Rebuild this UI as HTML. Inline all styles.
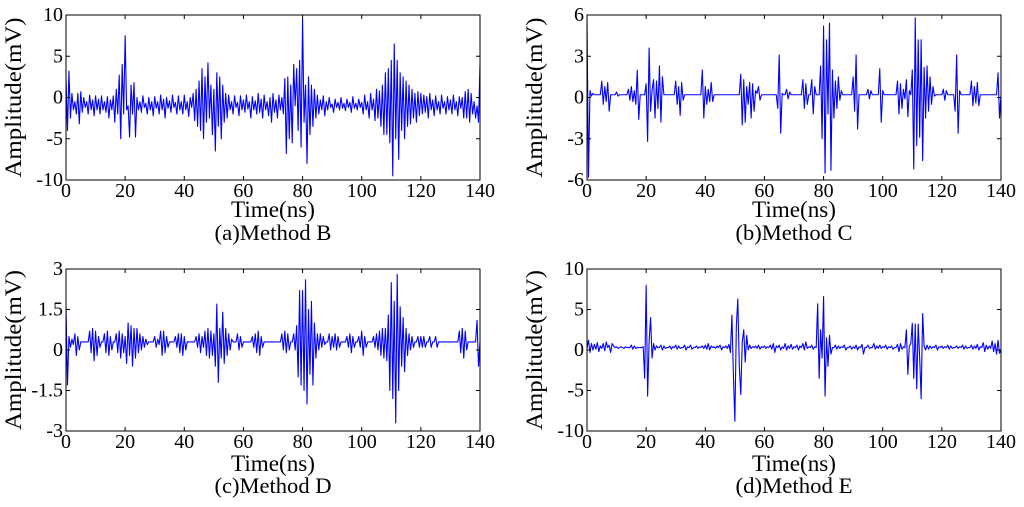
<!DOCTYPE html>
<html><head><meta charset="utf-8"><style>
html,body{margin:0;padding:0;background:#fff}
svg{display:block}
text{font-family:"Liberation Serif",serif;fill:#000}
</style></head><body>
<svg id="fig" width="1024" height="507" viewBox="0 0 1024 507" xmlns="http://www.w3.org/2000/svg"></svg>
<script>
const xTicks=[0,20,40,60,80,100,120,140];
const ticksA=[-10,-5,0,5,10];
const ticksB=[-6,-3,0,3,6];
const ticksC=[-3,-1.5,0,1.5,3];
const ticksD=[-10,-5,0,5,10];
const titles=["(a)Method B","(b)Method C","(c)Method D","(d)Method E"];
const seriesA=[2.5,-4,3.2,-2.5,0.5,-1.5,-0.5,-2,0.5,-3.2,0.7,-1.8,0,-1.2,-0.5,-2,0.3,-1.5,-0.3,-2.2,
0.2,-1.5,-0.2,-2,0.2,-1.5,-0.5,-1.8,0.1,-2.5,-0.3,-1.5,0.2,-3,1,-2,2.7,-5,4,-2,
7.5,-1.5,-1,-4.8,1.5,-2,1.8,-4.8,0,-1.5,-0.5,-1.8,0.2,-1.2,-0.7,-2,0,-1.5,-0.5,-2.2,
0.1,-1.3,-0.5,-2,0.3,-1.5,-0.2,-2.5,0,-1.3,-0.4,-1.8,0.3,-1.2,-0.6,-2,0.2,-1.5,-0.5,-2,
0.3,-1.5,-0.5,-2.3,0,-1.2,0.5,-2.8,1,-3.5,2,-4,3.5,-5,2.5,-3,4.2,-2.5,1.5,-4.5,
1,-6.5,3,-3.5,2.5,-5,1.5,-3,0.5,-2.5,0.3,-1.5,-0.5,-2,0.2,-1.2,-0.6,-2.2,0.2,-1.5,
-0.3,-1.8,0.3,-1.4,-0.5,-2.5,0.1,-1.5,-0.4,-2,0.5,-1.8,-0.2,-2.5,0.3,-1.5,-0.5,-2.2,0,-3,
0.5,-1.8,-0.3,-2.5,0.3,-1.5,0,-2,2.3,-6.8,2.5,-5,1.5,-5.5,4,-1,3.5,-4,4.5,-6,
9.5,-3,1.5,-8,2.5,-4.5,1.5,-3.5,1,-2.5,0.3,-2,-0.3,-1.5,0.2,-2.2,-0.5,-1.5,0,-1.2,
-0.8,-1.8,-0.2,-1.2,-0.6,-1.5,0,-1.3,-0.7,-1.6,-0.2,-1.2,-0.6,-1.8,0.1,-1.3,-0.7,-1.5,-0.2,-1.2,
-0.6,-2,0.3,-1.5,-0.5,-2.5,0.5,-1.5,-0.2,-2.8,1,-2.5,0.8,-3.5,1.5,-4.5,3,-4.5,3.5,-5.5,
4.5,-9.5,6.5,-5,4.5,-7.5,3,-4,2.5,-5,2,-3.5,1.5,-3.2,1,-2.5,0.5,-3,0.7,-2.2,
0.5,-2,0.3,-1.8,0.1,-2.5,0.5,-1.5,-0.3,-2.2,0.2,-1.5,-0.5,-2,0.3,-1.3,-0.5,-2,0.1,-1.5,
-0.3,-2,0.3,-1.5,-0.5,-2.2,0.1,-1.3,0,-2.5,0.7,-2.5,1,-3,0.5,-2,-0.5,-2.5,-1,-3,4];
const seriesB=[5.8,-5.8,0.5,0.1,0.3,0.2,0.2,0.2,0.2,0.2,1.2,-0.5,0.8,-0.3,1.1,-1,0.2,0.2,0.2,0.2,
0.4,0.1,0.2,0.2,0.2,0.2,0.2,0.2,0.6,-0.2,0.8,-0.3,0.5,-0.5,2,-1.6,0.2,0.2,0.2,0.2,
1,-3.2,3.6,-1,0.5,1.3,-1.5,1.2,-0.8,2.3,-1.8,1.5,0.2,0.2,0.2,0.2,0.2,0.2,0.2,0.2,
1.2,-0.5,0.8,-1.3,1.1,-0.2,0.2,0.2,0.2,0.2,0.2,0.2,0.2,0.2,0.2,0.2,0.2,0.2,2,-1.5,
0.8,-0.5,0.6,-0.3,1.1,-0.3,0.2,0.2,0.2,0.2,0.2,0.2,0.2,0.2,0.2,0.2,0.2,0.2,0.2,0.2,
0.2,0.2,0.2,0.2,1.7,-2,1.3,-1.8,0.8,-0.5,1.1,-1.5,1,-1,0.5,0.3,0.8,-0.2,0.2,0.2,
0.2,0.2,0.2,0.2,0.2,0.2,0.2,0.2,0.2,-0.8,3.1,-2.6,0.3,0.2,0.2,0.6,-0.1,0.4,0.2,0.2,
0.2,0.2,0.2,0.2,0.2,0.2,1.3,-0.8,1,-0.5,0.2,0.2,1.3,-1.2,0.8,0.2,0.2,0.2,2.3,-3,
5.2,-5.5,4.2,-1.2,5.4,-5.3,2,-1.5,1.2,-0.8,1.5,-0.2,0.5,0.2,0.2,0.2,0.2,0.2,0.2,0.2,
1.5,-1,3.1,-2.3,0.2,0.2,0.2,0.2,0.2,0.2,0.6,-0.1,0.5,0.2,0.2,0.2,0.2,0.2,2.1,-1.8,
0.5,0.2,0.2,0.2,0.2,0.2,0.2,0.2,0.2,0.2,1.2,-1.2,1,-0.8,0.6,-0.1,1.3,-1.4,0.5,0.2,
2,-5.2,5.8,-3.5,4.2,-2.9,4.2,-4.6,2.2,-1.5,2.3,-1,1.5,-0.5,0.8,0.1,0.2,0.2,0.2,0.2,
0.2,0.6,-0.2,0.5,0.2,0.2,0.2,0.2,0.2,-1,3.1,-2.6,0.5,0.2,0.2,0.2,0.2,0.2,0.2,0.2,
1.2,-0.6,0.8,-0.4,1.1,-0.6,0.2,0.2,0.2,0.2,0.2,0.2,0.2,0.2,0.2,0.2,0.2,0.2,1.8,-1.5,0.2];
const seriesC=[1.6,-1.3,0.5,0.1,0.4,0.2,0.6,-0.2,0.5,0,0.3,0.3,0.3,0.3,0.3,0.3,0.7,-0.1,0.8,-0.4,
0.7,-0.2,0.5,0.1,0.3,0.3,0.6,-0.1,0.7,-0.2,0.5,0,0.3,0.3,0.6,-0.1,0.7,-0.3,0.6,-0.1,
0.5,-0.5,1,-0.2,0.9,-0.6,0.8,-0.3,0.8,-0.1,0.6,0,0.5,0.1,0.4,0.2,0.3,0.3,0.3,0.3,
0.5,0.1,0.4,0.2,0.7,-0.2,0.7,-0.1,0.5,0.1,0.3,0.3,0.3,0.3,0.5,0.1,0.6,-0.1,0.6,-0.2,
0.5,0,0.3,0.3,0.3,0.3,0.3,0.3,0.5,0.1,0.6,-0.1,0.5,0.1,0.7,-0.2,0.8,-0.3,0.7,-0.2,
0.6,-0.6,1.7,-1.2,0.8,-0.3,1.4,-0.5,0.8,-0.2,0.6,0,0.4,0.3,0.3,0.3,0.6,0,0.5,0.1,
0.3,0.3,0.3,0.3,0.3,0.3,0.5,0.1,0.6,-0.1,0.7,-0.2,0.5,0.1,0.3,0.3,0.3,0.3,0.3,0.3,
0.3,0.3,0.3,0.3,0.3,0.3,0.6,0,0.7,-0.1,0.6,0,0.3,0.3,0.6,0,0.9,-1,2.2,-1.3,
2.2,-1.5,2.6,-2,1.5,-0.9,1.8,-1.3,1,-0.3,0.6,0,0.6,0.1,0.5,0.2,0.3,0.3,0.6,0,
0.5,0.1,0.6,0,0.5,0.1,0.3,0.3,0.3,0.3,0.5,0.1,0.6,-0.1,0.5,0.1,0.3,0.3,0.5,0.1,
0.7,-0.2,0.5,0.1,0.3,0.3,0.3,0.3,0.5,0.1,0.6,0,0.7,-0.2,0.8,-0.3,0.8,-0.4,1.3,-1.5,
2.5,-1.8,1.8,-2.7,2.8,-1.5,1.6,-0.6,1.2,-0.8,0.8,-0.2,0.6,0,0.5,0.1,0.3,0.3,0.5,0.1,
0.5,0.1,0.5,0.1,0.3,0.3,0.5,0.1,0.3,0.3,0.5,0.1,0.3,0.3,0.3,0.3,0.3,0.3,0.3,0.3,
0.3,0.3,0.3,0.3,0.3,0.3,0.7,-0.1,0.8,-0.3,0.7,0,0.3,0.3,0.3,0.3,0.3,0.3,1.1,-0.6,0.3];
const seriesD=[0.2,1.2,-0.3,0.8,0,0.7,0.1,0.9,-0.2,0.5,0.2,0.8,-0.1,1,0.3,0.6,-0.3,0.8,0.5,0.3,
0.4,0.2,0.3,0.4,0.3,0.2,0.4,0.3,0.3,0.3,0.6,0.1,0.5,0.2,0.3,0.3,0.3,0.3,0.4,-3.5,
8,-5.7,1,4,-1,0.8,0,0.5,0.3,0.3,0.6,0,0.5,0.2,0.3,0.3,0.5,0.1,0.4,0.3,
0.6,0.1,0.5,0.2,0.3,0.3,0.6,0,0.4,0.3,0.6,0.1,0.3,0.3,0.5,0.2,0.4,0.3,0.5,0.2,
0.6,0.1,0.8,0,0.5,0.3,0.4,0.2,0.5,0.3,0.6,0,0.4,0.3,0.5,0.2,0.7,-0.3,4.3,-3,
-8.8,3,6.3,-2,-5.5,1,2.5,-1.5,1.8,0,0.6,0.2,0.4,0.3,0.5,0.2,0.6,0.1,0.4,0.3,
0.5,0.2,0.4,0.3,0.6,0.1,0.8,-0.3,0.5,0.3,0.6,0,0.4,0.2,0.8,0,0.5,0.2,0.7,0.1,
0.4,0.3,0.6,0,0.5,0.3,0.8,0,1,0.2,0.4,0.3,0.6,0.1,0.4,0.3,5.7,-3.5,2.5,-1,
6.6,-5.7,1.5,-2,1.8,-0.5,0.3,0.3,0.6,0.1,0.5,0.2,0.4,0.3,0.6,0,0.3,0.3,0.5,0.1,
0.4,0.2,0.6,0,0.4,0.3,0.7,-0.5,0.3,0.3,0.6,0.2,0.3,0.3,0.8,0.1,0.5,0.2,0.6,0.2,
0.4,0.3,0.6,0.1,0.4,0.3,0.5,0.1,0.3,0.3,0.7,-0.2,0.8,0.1,0.4,0.3,2.5,-3,0.5,0.8,
3.3,-3.5,3.2,-4.8,3.2,-1,-6,4.5,0.5,0,0.6,0.1,0.5,0.2,0.4,0.3,0.6,0,0.4,0.3,
0.5,0.2,0.4,0.3,0.6,0.1,0.5,0.2,0.3,0.3,0.5,0.2,0.4,0.3,0.6,0.1,0.5,0.2,0.3,0.3,
0.6,0.1,0.5,0.2,0.7,0,0.4,0.3,0.9,-0.2,0.6,0.1,0.5,0.2,1.1,-0.2,0.8,-0.5,1.2,-0.4,0];

const NS="http://www.w3.org/2000/svg";
const svg=document.getElementById('fig');
function mk(tag,attrs,parent){const e=document.createElementNS(NS,tag);for(const k in attrs)e.setAttribute(k,attrs[k]);parent.appendChild(e);return e;}

function panel(key,L,R,T,B,yTicks,series,title,offT,offC){
  const g=mk('g',{},svg);
  
  
  const ymin=yTicks[0],ymax=yTicks[yTicks.length-1];
  const xs=v=>L+(v-0)/(140-0)*(R-L);
  const ys=v=>B-(v-ymin)/(ymax-ymin)*(B-T);
  const n=series.length;
  let d='';
  series.forEach((v,i)=>{const t=i*140/(n-1);d+=(i?'L':'M')+xs(t).toFixed(2)+' '+ys(v).toFixed(2);});
  const cp=mk('clipPath',{id:'clip-'+key},g);
  mk('rect',{x:L,y:T,width:R-L,height:B-T},cp);
  const line=mk('path',{d:d,fill:'none',stroke:'#0000ff','stroke-width':1.1,'stroke-linejoin':'round','clip-path':'url(#clip-'+key+')'},g);
  
  
  const frame=mk('rect',{x:L,y:T,width:R-L,height:B-T,fill:'none',stroke:'#000','stroke-width':1},g);
  
  
  xTicks.forEach(v=>{
    const x=xs(v);
    mk('line',{x1:x,x2:x,y1:B,y2:B-4,stroke:'#000'},g);
    mk('line',{x1:x,x2:x,y1:T,y2:T+4,stroke:'#000'},g);
    const t=mk('text',{x:x,y:B+17,'text-anchor':'middle','font-size':20},g);
    t.textContent=v;
    
    
  });
  yTicks.forEach(v=>{
    const y=ys(v);
    mk('line',{x1:L,x2:L+4,y1:y,y2:y,stroke:'#000'},g);
    mk('line',{x1:R,x2:R-4,y1:y,y2:y,stroke:'#000'},g);
    const t=mk('text',{x:L-3,y:y+6,'text-anchor':'end','font-size':20},g);
    t.textContent=v;
    
    
  });
  const xt=mk('text',{x:(L+R)/2-84/2,y:B+offT,'font-size':23,textLength:84,lengthAdjust:'spacingAndGlyphs'},g);
  xt.textContent='Time(ns)';
  
  
  const st=mk('text',{x:(L+R)/2-117/2,y:B+offC,'font-size':22,textLength:117,lengthAdjust:'spacingAndGlyphs'},g);
  st.textContent=title;
  
  
  const cy=(T+B)/2, cx=L-45;
  const yt=mk('text',{x:cx-80,y:cy,'font-size':23,textLength:160,lengthAdjust:'spacingAndGlyphs',transform:'rotate(-90 '+cx+' '+cy+')'},g);
  yt.textContent='Amplitude(mV)';
  
  
}
panel('a',66,480,15,180,ticksA,seriesA,titles[0],37,60);
panel('b',587,1001,15,180,ticksB,seriesB,titles[1],37,60);
panel('c',66,480,269,431,ticksC,seriesC,titles[2],40,62);
panel('d',587,1001,269,431,ticksD,seriesD,titles[3],40,62);
</script>
</body></html>
